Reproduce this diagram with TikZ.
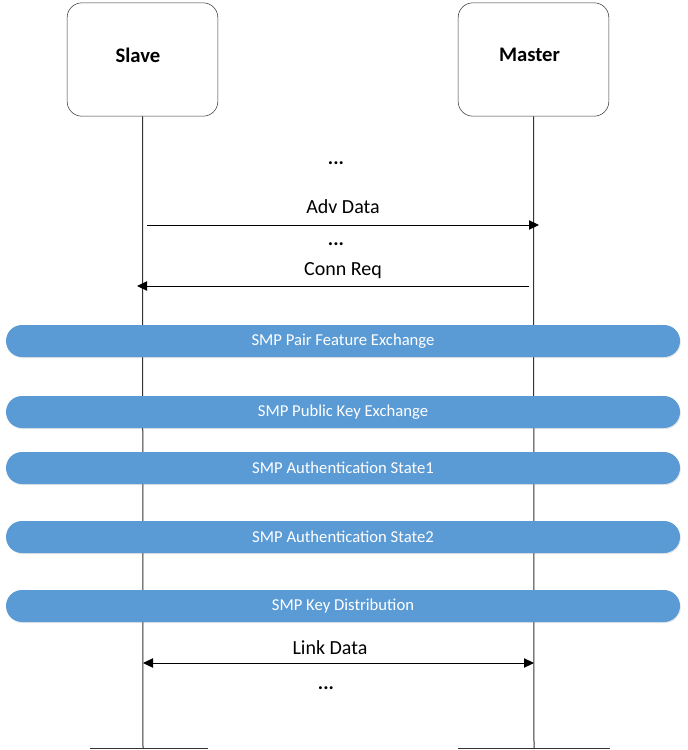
\documentclass[tikz,border=0pt]{standalone}
\usepackage{fontspec}
\setmainfont{Carlito}
\usetikzlibrary{arrows.meta,positioning,shadows}
\definecolor{smpblue}{HTML}{5B9BD5}
\definecolor{lifegray}{HTML}{333333}

\begin{document}
\begin{tikzpicture}[x=0.75pt,y=-0.75pt,
    actor/.style={draw=lifegray,rounded corners=11pt,minimum width=113pt,minimum height=85pt},
    actorname/.style={font=\bfseries\fontsize{15.5}{18}\selectfont},
    phase/.style={fill=smpblue,rounded corners=12pt,minimum width=505.5pt,minimum height=24pt,text=white,font=\fontsize{12.5}{14}\selectfont,
      drop shadow={opacity=0.2,shadow xshift=0.6pt,shadow yshift=-0.8pt}},
    life/.style={draw=lifegray,line width=0.75pt},
    msg/.style={line width=0.75pt,-{Triangle[length=7.5pt,width=7pt]}},
    lbl/.style={font=\fontsize{15}{17}\selectfont},
    dots/.style={font=\bfseries\fontsize{15}{17}\selectfont}]
    \useasboundingbox (0,0) rectangle (687,750);

    % actors
    \node[actor] (slave) at (142.5,59.5) {};
    \node[actor] (master) at (533.5,59.5) {};
    \node[actorname] (slave-name) at ([shift={(-4.5,-4.5)}]slave.center) {Slave};
    \node[actorname] (master-name) at ([shift={(-4,-4.5)}]master.center) {Master};
    \coordinate (slave-end) at (143,748);
    \coordinate (master-end) at (534,748);
    \draw[life] (slave.south) -- (slave-end);
    \draw[life] (master.south) -- (master-end);
    \draw[life] (90,748) -- (208,748);
    \draw[life] (458,748) -- (610,748);

    % advertising
    \node[dots] (dots1) at (336,163) {...};
    \node[lbl] (adv) at (343,207) {Adv Data};
    \coordinate (adv-s) at (147,225);
    \coordinate (adv-m) at (539,225);
    \draw[msg] (adv-s) -- (adv-m);
    \node[dots] (dots2) at (336,244) {...};
    \node[lbl] (conn) at (343,271) {Conn Req};
    \coordinate (conn-m) at (529,286);
    \coordinate (conn-s) at (137,286);
    \draw[msg] (conn-m) -- (conn-s);

    % smp phases
    \node[phase] (pfe) at (343,341) {SMP Pair Feature Exchange};
    \node[phase] (pke) at (343,412) {SMP Public Key Exchange};
    \node[phase] (auth1) at (343,468) {SMP Authentication State1};
    \node[phase] (auth2) at (343,537) {SMP Authentication State2};
    \node[phase] (kd) at (343,606) {SMP Key Distribution};

    % link data
    \node[lbl] (link) at (330,648) {Link Data};
    \coordinate (link-s) at (143,663);
    \coordinate (link-m) at (534,663);
    \draw[msg,{Triangle[length=7.5pt,width=7pt]}-{Triangle[length=7.5pt,width=7pt]}] (link-s) -- (link-m);
    \node[dots] (dots3) at (326,688) {...};
\end{tikzpicture}
\end{document}
